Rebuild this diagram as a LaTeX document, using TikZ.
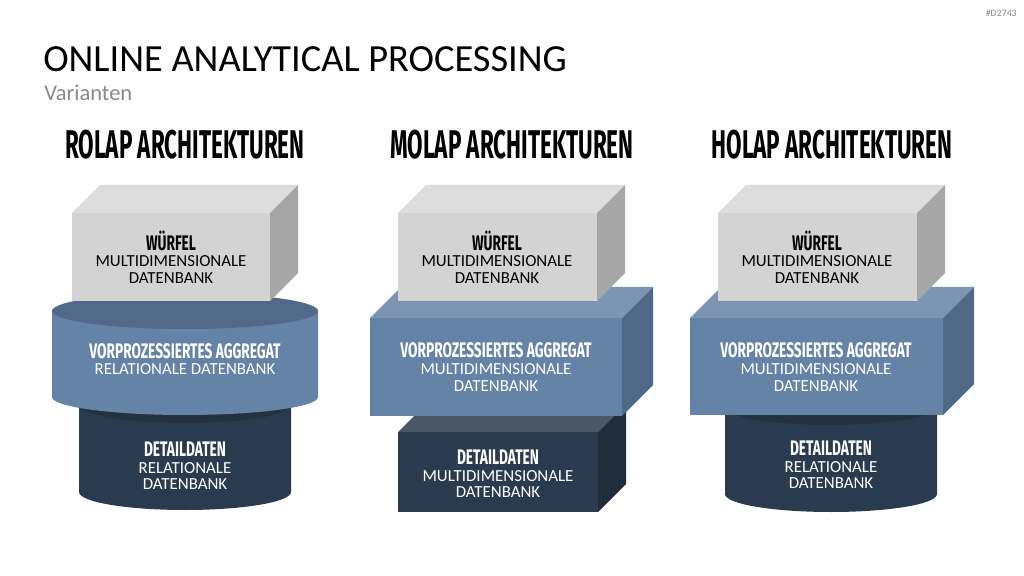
\documentclass[tikz,border=0pt]{standalone}
\usepackage{fontspec}
\setmainfont{Carlito}
\newfontfamily\headfont{Fira Sans}[FakeStretch=0.56]
\newfontfamily\labfont{Fira Sans}[FakeStretch=0.65]
\definecolor{grayfront}{HTML}{D3D3D3}
\definecolor{graytop}{HTML}{DDDDDD}
\definecolor{grayside}{HTML}{A6A6A6}
\definecolor{bluefront}{HTML}{6483A6}
\definecolor{bluetop}{HTML}{7D95B2}
\definecolor{blueside}{HTML}{4F6986}
\definecolor{bluerim}{HTML}{52698A}
\definecolor{navyfront}{HTML}{2B3B4F}
\definecolor{navytop}{HTML}{4A5766}
\definecolor{navyside}{HTML}{1F2C3A}
\definecolor{navyrim}{HTML}{24313F}
\definecolor{subgray}{HTML}{8A8A8A}
\newcommand\hd[1]{{\labfont\bfseries\fontsize{15}{11.8}\selectfont #1}}
% x y w h depth colour
\newcommand\cuboid[6]{%
 \fill[#6front] (#1,#2) rectangle ++(#3,#4);
 \fill[#6top] (#1,#2) -- ++(#5,-#5) -- ++(#3,0) -- ++(-#5,#5) -- cycle;
 \fill[#6side] (#1+#3,#2) -- ++(#5,-#5) -- ++(0,#4) -- ++(-#5,#5) -- cycle;}
% cx ytop ybottom rx ry colour
\newcommand\drum[6]{%
 \fill[#6front] (#1-#4,#2) -- (#1-#4,#3)
   arc[start angle=180,end angle=0,x radius=#4,y radius=#5] -- (#1+#4,#2) -- cycle;
 \fill[#6rim] (#1,#2) ellipse[x radius=#4,y radius=#5];}

\begin{document}
\begin{tikzpicture}[x=0.025cm,y=-0.025cm,
 head/.style={font=\headfont\bfseries\fontsize{28.5}{30}\selectfont},
 lbl/.style={align=center,inner sep=0pt,font=\fontsize{12}{11.8}\selectfont},
 dark/.style={lbl,text=black},light/.style={lbl,text=white}]
 \useasboundingbox[fill=white] (0,0) rectangle (1024,576);
 \node[anchor=base west,inner sep=0,font=\fontsize{27.3}{30}\selectfont] (titel) at (43,72) {ONLINE ANALYTICAL PROCESSING};
 \node[anchor=base west,inner sep=0,text=subgray,font=\fontsize{16}{18}\selectfont] (untertitel) at (44,101) {Varianten};
 \node[anchor=base east,inner sep=0,text=subgray,font=\fontsize{7}{8}\selectfont] (nummer) at (1017,17) {\#D2743};

 \node[head] (rolap) at (185,145) {ROLAP ARCHITEKTUREN};
 \node[head] (molap) at (512,145) {MOLAP ARCHITEKTUREN};
 \node[head] (holap) at (832,145) {HOLAP ARCHITEKTUREN};

 \drum{185}{405}{492}{106}{18}{navy}
 \drum{185}{311}{397}{133}{18}{blue}
 \cuboid{72}{213}{198}{88}{28}{gray}

 \cuboid{398}{432}{200}{80}{28}{navy}
 \cuboid{370}{318}{252}{98}{31}{blue}
 \cuboid{398}{213}{199}{88}{28}{gray}

 \drum{831}{407}{494}{106}{18}{navy}
 \cuboid{690}{318}{253}{97}{31}{blue}
 \cuboid{718}{213}{199}{88}{28}{gray}

 \node[dark] (rwuerfel) at (171,257) {\hd{WÜRFEL}\\MULTIDIMENSIONALE\\DATENBANK};
 \node[light] (raggregat) at (185,359) {\hd{VORPROZESSIERTES AGGREGAT}\\RELATIONALE DATENBANK};
 \node[light] (rdetail) at (185,466) {\hd{DETAILDATEN}\\RELATIONALE\\DATENBANK};

 \node[dark] (mwuerfel) at (497,257) {\hd{WÜRFEL}\\MULTIDIMENSIONALE\\DATENBANK};
 \node[light] (maggregat) at (496,367) {\hd{VORPROZESSIERTES AGGREGAT}\\MULTIDIMENSIONALE\\DATENBANK};
 \node[light] (mdetail) at (498,474) {\hd{DETAILDATEN}\\MULTIDIMENSIONALE\\DATENBANK};

 \node[dark] (hwuerfel) at (817,257) {\hd{WÜRFEL}\\MULTIDIMENSIONALE\\DATENBANK};
 \node[light] (haggregat) at (816,367) {\hd{VORPROZESSIERTES AGGREGAT}\\MULTIDIMENSIONALE\\DATENBANK};
 \node[light] (hdetail) at (831,465) {\hd{DETAILDATEN}\\RELATIONALE\\DATENBANK};
\end{tikzpicture}
\end{document}
